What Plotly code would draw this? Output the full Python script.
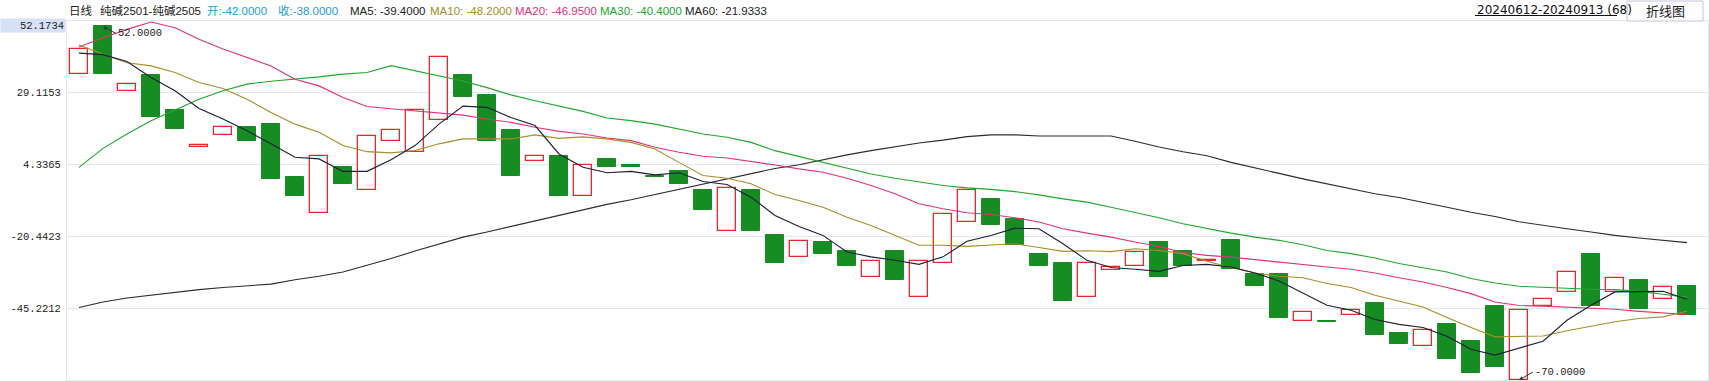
import plotly.graph_objects as go

# ---------------- data ----------------
OPEN = [35.55, 52.0, 29.7, 35.3, 23.3, 10.3, 14.6, 17.4, 18.45, 0.2,
        -12.4, 3.4, -4.4, 12.5, 8.7, 19.7, 35.3, 28.4, 16.4, 5.6,
        7.4, -6.4, 6.4, 4.3, 0.4, 2.3, -4.6, -18.5, -4.6, -19.8,
        -27.4, -22.5, -25.6, -34.3, -25.6, -41.5, -29.5, -15.4, -7.7, -14.6,
        -26.6, -29.7, -41.5, -32.2, -30.5, -22.5, -25.6, -29.0, -21.8, -33.5,
        -33.5, -49.5, -49.7, -47.4, -43.5, -53.8, -58.4, -50.7, -56.6, -44.5,
        -70.0, -44.4, -39.5, -26.6, -39.5, -35.6, -42.0, -37.65]
CLOSE = [44.16, 35.55, 32.2, 20.6, 16.5, 11.1, 17.4, 12.4, -0.7, -6.6,
         7.4, -2.4, 14.2, 16.3, 23.2, 41.4, 27.5, 12.4, 0.3, 7.3,
         -6.6, 4.2, 3.4, 3.4, 0.0, -2.4, -11.4, -3.7, -18.6, -29.6,
         -21.9, -26.5, -30.7, -28.8, -35.5, -28.8, -12.6, -4.6, -16.6, -23.3,
         -30.7, -42.7, -29.7, -30.9, -25.7, -34.5, -30.7, -28.6, -31.7, -37.5,
         -48.6, -46.7, -49.9, -45.7, -54.4, -57.5, -52.8, -62.7, -67.5, -65.4,
         -45.7, -41.9, -32.6, -44.4, -34.7, -45.5, -38.0, -47.6]

MA5 = [42.8, 42.3, 39.9, 34.4, 29.8, 23.7, 20.1, 16.0, 11.5, 6.85,
       6.3, 2.0, 2.0, 6.0, 10.9, 18.3, 24.5, 24.1, 20.6, 17.8,
       8.0, 3.4, 1.5, 2.0, 0.8, 1.5, -1.5, -2.55, -6.9, -13.2,
       -17.0, -20.1, -25.8, -27.5, -28.7, -30.1, -27.5, -22.1, -20.1, -17.6,
       -17.8, -23.0, -28.7, -31.2, -31.8, -32.5, -30.5, -30.1, -31.0, -33.1,
       -35.8, -40.0, -44.2, -45.9, -49.1, -50.8, -51.9, -54.9, -59.4, -61.4,
       -59.0, -56.6, -49.4, -44.2, -39.6, -39.6, -39.4, -42.1]
MA10 = [45.6, 42.4, 39.5, 38.4, 36.1, 32.7, 30.6, 26.9, 22.3, 18.3,
        15.5, 10.9, 8.8, 8.4, 9.2, 11.5, 13.2, 13.2, 13.2, 14.6,
        13.4, 13.9, 13.2, 12.0, 9.7, 5.1, 0.55, -0.4, -2.3, -6.0,
        -8.05, -10.4, -13.8, -16.7, -20.1, -23.5, -23.5, -23.9, -23.4, -23.0,
        -24.3, -25.6, -25.4, -25.7, -24.7, -25.3, -26.4, -29.0, -31.2, -33.1,
        -34.2, -34.7, -36.7, -38.1, -40.75, -42.8, -44.8, -48.4, -51.9, -55.1,
        -55.0, -54.8, -53.0, -51.4, -49.9, -48.8, -48.2, -46.3]
MA20 = [44.9, 48.1, 51.0, 53.55, 51.6, 47.6, 44.2, 41.3, 38.4, 33.8,
        31.5, 27.5, 24.4, 23.6, 22.9, 22.3, 21.4, 20.1, 18.9, 17.2,
        15.8, 14.9, 13.5, 12.6, 10.3, 8.6, 7.2, 6.6, 5.5, 4.2,
        2.85, 1.7, -0.4, -2.9, -5.75, -9.2, -10.9, -12.3, -12.9, -14.0,
        -15.5, -17.8, -19.3, -20.7, -22.4, -23.9, -26.0, -27.0, -27.6, -28.5,
        -29.3, -30.2, -31.0, -31.8, -33.1, -34.7, -36.2, -38.1, -40.2, -43.1,
        -44.3, -44.5, -44.8, -45.1, -45.6, -46.3, -46.95, -47.4]
MA30 = [3.4, 9.95, 14.9, 19.5, 23.2, 26.9, 29.8, 32.1, 33.1, 33.8,
        34.6, 35.55, 36.1, 38.5, 36.7, 35.0, 33.2, 30.9, 28.4, 26.4,
        24.6, 22.7, 20.4, 19.5, 18.3, 16.6, 14.9, 13.75, 12.0, 9.15,
        7.2, 5.1, 3.1, 1.1, -0.4, -1.75, -2.9, -3.7, -4.2, -5.0,
        -6.1, -7.5, -8.6, -10.4, -12.1, -14.0, -16.1, -17.8, -19.3, -20.7,
        -21.8, -23.3, -25.3, -26.4, -27.9, -29.8, -31.2, -32.7, -35.0, -36.5,
        -37.65, -38.0, -38.4, -38.7, -38.8, -39.4, -40.4, -41.5]
MA60 = [-45.0, -43.1, -41.7, -40.75, -39.7, -38.8, -38.1, -37.5, -36.9, -35.4,
        -34.2, -32.7, -30.4, -28.1, -25.5, -23.0, -20.7, -18.9, -17.0, -14.9,
        -13.2, -11.15, -9.4, -7.8, -6.0, -4.3, -2.3, -0.6, 1.1, 3.0,
        4.3, 6.1, 7.7, 9.15, 10.5, 11.8, 12.8, 14.0, 14.6, 14.6,
        14.2, 14.2, 14.0, 14.2, 12.4, 10.4, 8.8, 7.4, 5.1, 3.1,
        1.3, -0.6, -2.3, -4.0, -5.75, -7.0, -8.6, -10.4, -12.1, -13.6,
        -15.4, -16.7, -17.8, -18.9, -20.1, -21.0, -21.93, -22.6]
MA60_HDR = -21.9333

TICK_VALS = [-45.2212, -20.4423, 4.3365, 29.1153]
Y_MIN, Y_MAX = -70.0, 53.894
CROSS_Y = 52.1734
CROSS_IDX = 66
HIGH_IDX, HIGH_VAL = 1, 52.0
LOW_IDX, LOW_VAL = 60, -70.0
TITLE = "纯碱2501-纯碱2505"
PERIOD = "日线"
DATE_RANGE = "20240612-20240913 (68)"

# ---------------- layout geometry ----------------
W, H = 1709, 381
L, R, T, B = 67, 1, 21, 1
PW, PH = W - L - R, H - T - B
N = len(OPEN)
X_MAX = -0.5 + PW / 24.0


def px(xp):
    return (xp - L) / PW


def py(yp):
    return (H - B - yp) / PH


RED = "#e8282c"
GREEN = "#178c22"
C_MA5 = "#1e1e3c"
C_MA10 = "#a68e28"
C_MA20 = "#e0337a"
C_MA30 = "#20a82c"
C_MA60 = "#2c2c2c"
CYAN = "#1e9be0"
GRID = "#e6e6f0"
MONO = "Liberation Mono, Noto Sans CJK SC, monospace"
HDR_FONT = "Liberation Sans, Noto Sans CJK SC, sans-serif"

xs = list(range(N))
up_x, up_b, up_h, dn_x, dn_b, dn_h = [], [], [], [], [], []
for i, (o, c) in enumerate(zip(OPEN, CLOSE)):
    if c >= o:
        up_x.append(i); up_b.append(o); up_h.append(c - o)
    else:
        dn_x.append(i); dn_b.append(c); dn_h.append(o - c)

fig = go.Figure()
fig.add_trace(go.Bar(x=up_x, y=up_h, base=up_b, width=0.74,
                     marker=dict(color="#ffffff", line=dict(color=RED, width=1.3)),
                     showlegend=False, hoverinfo="skip"))
fig.add_trace(go.Bar(x=dn_x, y=dn_h, base=dn_b, width=0.74,
                     marker=dict(color=GREEN, line=dict(color=GREEN, width=1)),
                     showlegend=False, hoverinfo="skip"))

for vals, col in [(MA60, C_MA60), (MA30, C_MA30), (MA20, C_MA20), (MA10, C_MA10), (MA5, C_MA5)]:
    fig.add_trace(go.Scatter(x=xs, y=vals, mode="lines",
                             line=dict(color=col, width=1.1),
                             showlegend=False, hoverinfo="skip"))

ann = []
# header segments
hdr = [
    (PERIOD, 67, "#222222"),
    (TITLE, 98, "#222222"),
    ("开:%.4f" % OPEN[CROSS_IDX], 205, CYAN),
    ("收:%.4f" % CLOSE[CROSS_IDX], 276, CYAN),
    ("MA5: %.4f" % MA5[CROSS_IDX], 348, "#222222"),
    ("MA10: %.4f" % MA10[CROSS_IDX], 428, C_MA10),
    ("MA20: %.4f" % MA20[CROSS_IDX], 513, C_MA20),
    ("MA30: %.4f" % MA30[CROSS_IDX], 598, C_MA30),
    ("MA60: %.4f" % MA60_HDR, 683, "#222222"),
]
for txt, xp, col in hdr:
    ann.append(dict(xref="paper", yref="paper", x=px(xp), y=py(10.5),
                    xanchor="left", yanchor="middle", showarrow=False,
                    text=txt, font=dict(family=HDR_FONT, size=11.5, color=col)))

# date range + button
ann.append(dict(xref="paper", yref="paper", x=px(1475), y=py(9.5),
                xanchor="left", yanchor="middle", showarrow=False,
                text=DATE_RANGE, font=dict(family="DejaVu Sans", size=12, color="#111111")))
ann.append(dict(xref="paper", yref="paper", x=px(1665), y=py(11),
                xanchor="center", yanchor="middle", showarrow=False,
                text="折线图", font=dict(family="Noto Sans CJK SC", size=13, color="#222222")))

# crosshair value label on the y axis
ann.append(dict(xref="paper", yref="y", x=0, y=CROSS_Y, xanchor="right", yanchor="middle",
                xshift=-1, showarrow=False, text="%.4f" % CROSS_Y, align="right",
                width=62, height=11, borderpad=1, bgcolor="#d6e0f6",
                font=dict(family=MONO, size=10.5, color="#222222")))

# high / low markers
ann.append(dict(x=HIGH_IDX, y=HIGH_VAL, xref="x", yref="y", text="%.4f" % HIGH_VAL,
                showarrow=True, arrowhead=2, arrowsize=0.8, arrowwidth=1, arrowcolor="#333344",
                ax=13, ay=7, xanchor="left", yanchor="middle", standoff=0,
                font=dict(family=MONO, size=10.5, color="#222222")))
ann.append(dict(x=LOW_IDX, y=LOW_VAL, xref="x", yref="y", text="%.4f" % LOW_VAL,
                showarrow=True, arrowhead=2, arrowsize=0.8, arrowwidth=1, arrowcolor="#333344",
                ax=14, ay=-8, xanchor="left", yanchor="middle", standoff=0,
                font=dict(family=MONO, size=10.5, color="#222222")))

shapes = [
    dict(type="line", xref="paper", yref="paper", x0=px(0), x1=px(L), y0=py(21), y1=py(21),
         line=dict(color=GRID, width=1)),
    dict(type="rect", xref="paper", yref="paper", x0=px(1627), x1=px(1703), y0=py(21), y1=py(1),
         line=dict(color="#c4c6de", width=1), fillcolor="#fdfdff"),
    dict(type="line", xref="paper", yref="paper", x0=px(1475), x1=px(1617), y0=py(15.5), y1=py(15.5),
         line=dict(color="#111111", width=1)),
]

fig.update_layout(
    width=W, height=H,
    margin=dict(l=L, r=R, t=T, b=B, pad=0),
    paper_bgcolor="#ffffff", plot_bgcolor="#ffffff",
    barmode="overlay", bargap=0,
    annotations=ann, shapes=shapes,
    xaxis=dict(range=[-0.5, X_MAX], showgrid=False, zeroline=False, showticklabels=False,
               ticks="", showline=True, mirror=True, linecolor=GRID, linewidth=1, fixedrange=True),
    yaxis=dict(range=[Y_MIN, Y_MAX], tickvals=TICK_VALS, ticktext=["%.4f" % v for v in TICK_VALS],
               showgrid=True, gridcolor=GRID, gridwidth=1, zeroline=False, ticks="",
               ticklabelstandoff=3,
               tickfont=dict(family=MONO, size=10.5, color="#222222"),
               showline=True, mirror=True, linecolor=GRID, linewidth=1, fixedrange=True),
)

fig.write_html("out.html", config={"displayModeBar": False},
               post_script="document.body.style.margin='0';document.body.style.padding='0';")
